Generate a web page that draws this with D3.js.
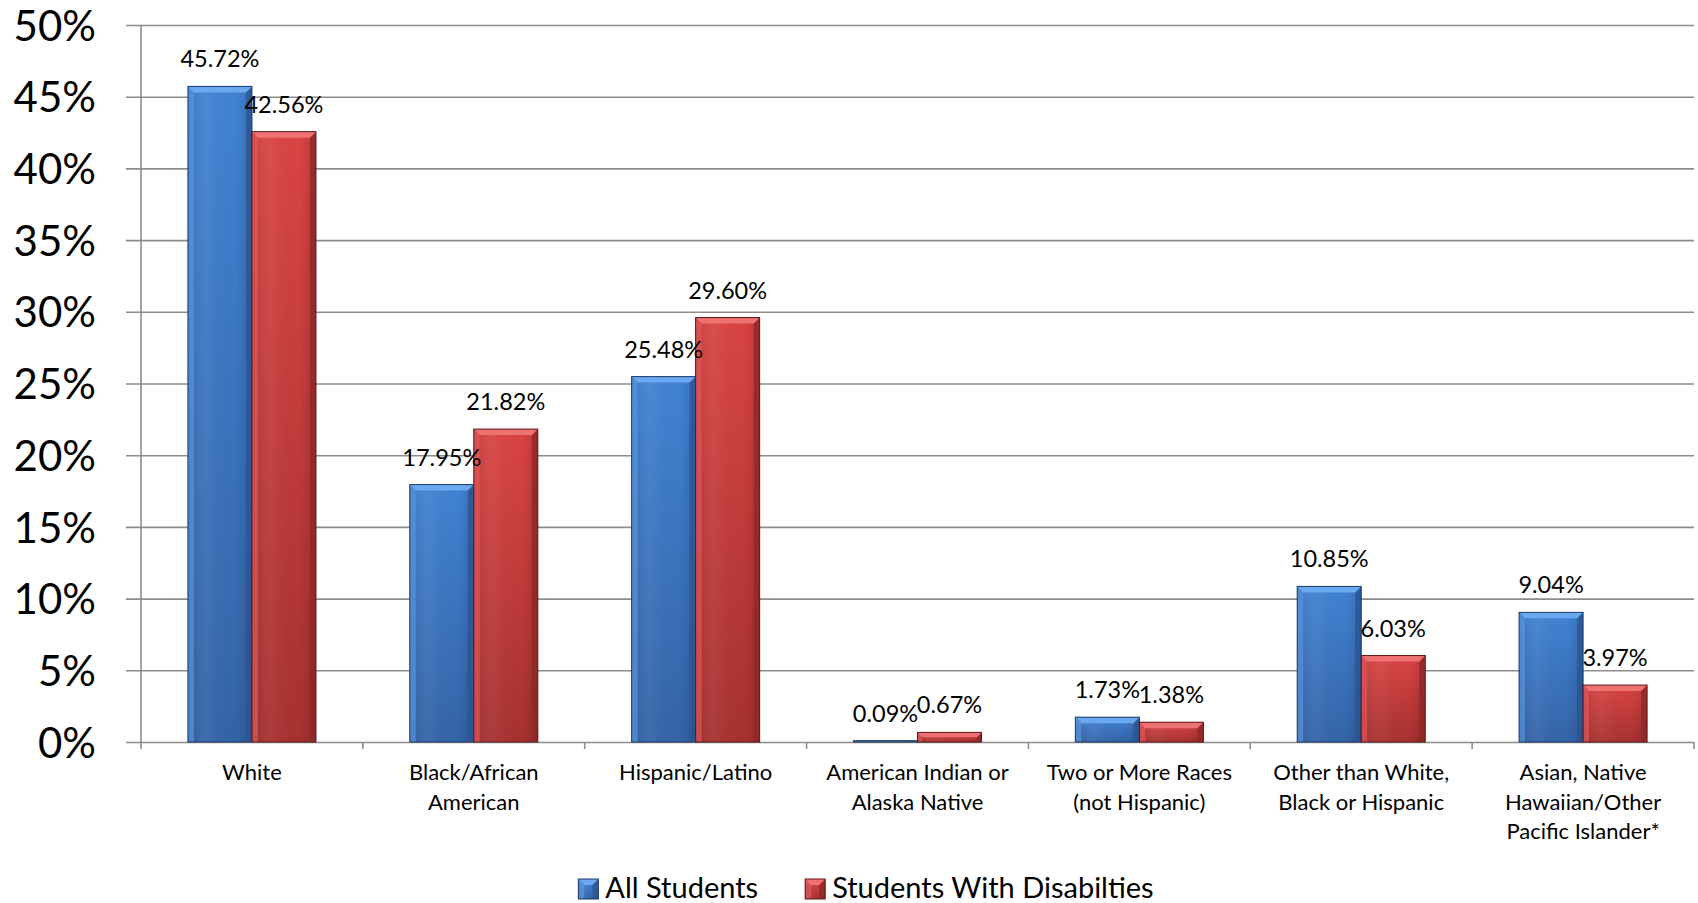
<!DOCTYPE html>
<html>
<head>
<meta charset="utf-8">
<script src="https://cdn.jsdelivr.net/npm/d3@7"></script>
<style>
  body { margin: 0; background: #fff; }
  svg text { font-family: Lato, "Open Sans", sans-serif; fill: #000; }
</style>
</head>
<body>
<div id="chart"></div>
<script>
// data
const categories = ["White", "Black/African American", "Hispanic/Latino",
  "American Indian or Alaska Native", "Two or More Races (not Hispanic)",
  "Other than White, Black or Hispanic", "Asian, Native Hawaiian/Other Pacific Islander*"];
const categoryLines = [
  ["White"],
  ["Black/African", "American"],
  ["Hispanic/Latino"],
  ["American Indian or", "Alaska Native"],
  ["Two or More Races", "(not Hispanic)"],
  ["Other than White,", "Black or Hispanic"],
  ["Asian, Native", "Hawaiian/Other", "Pacific Islander*"]
];
const seriesNames = ["All Students", "Students With Disabilties"];
const allStudents = [45.72, 17.95, 25.48, 0.09, 1.73, 10.85, 9.04];
const withDisabilities = [42.56, 21.82, 29.60, 0.67, 1.38, 6.03, 3.97];
const yTicks = [0, 5, 10, 15, 20, 25, 30, 35, 40, 45, 50];

function renderBars() {
  const width = 1698, height = 903;
  const margin = {top: 25, right: 4, bottom: 161, left: 141};

  const svg = d3.select("#chart")
    .append("svg")
    .attr("width", width)
    .attr("height", height);

  // colour sets for the bevelled bars
  const palette = [
    {id: "blue", top: "#6aa8f0", bodyTop: "#4183d4", bodyBottom: "#3464a8", light: "#5a95de", dark: "#2b5592", stroke: "#1d3a66"},
    {id: "red", top: "#ee7272", bodyTop: "#da4444", bodyBottom: "#a83131", light: "#e25858", dark: "#8e2828", stroke: "#5e1616"}
  ];

  const defs = svg.append("defs");
  palette.forEach(p => {
    const g = defs.append("linearGradient").attr("id", "body-" + p.id)
      .attr("x1", 0).attr("y1", 0).attr("x2", 0).attr("y2", 1);
    g.append("stop").attr("offset", "0%").attr("stop-color", p.bodyTop);
    g.append("stop").attr("offset", "100%").attr("stop-color", p.bodyBottom);
  });
  const side = defs.append("linearGradient").attr("id", "side-shade")
    .attr("x1", 0).attr("y1", 0).attr("x2", 1).attr("y2", 0);
  side.append("stop").attr("offset", "0%").attr("stop-color", "#000").attr("stop-opacity", 0.12);
  side.append("stop").attr("offset", "30%").attr("stop-color", "#fff").attr("stop-opacity", 0.05);
  side.append("stop").attr("offset", "75%").attr("stop-color", "#000").attr("stop-opacity", 0.0);
  side.append("stop").attr("offset", "100%").attr("stop-color", "#000").attr("stop-opacity", 0.15);

  const plotW = width - margin.left - margin.right;
  const plotH = height - margin.top - margin.bottom;

  const x = d3.scaleBand()
    .domain(categories)
    .range([0, plotW])
    .paddingInner(0.423)
    .paddingOuter(0.2115);

  const xSub = d3.scaleBand()
    .domain(seriesNames)
    .range([0, x.bandwidth()]);

  const y = d3.scaleLinear()
    .domain([0, 50])
    .range([plotH, 0]);

  const plot = svg.append("g")
    .attr("transform", `translate(${margin.left},${margin.top})`);

  // y axis with gridlines
  const yAxis = plot.append("g")
    .call(d3.axisLeft(y)
      .tickValues(yTicks)
      .tickSize(-plotW)
      .tickPadding(45)
      .tickFormat(d => d + "%"));
  yAxis.select(".domain").remove();
  yAxis.selectAll(".tick line")
    .attr("x1", -15)
    .attr("stroke", "#8c8c8c")
    .attr("stroke-width", 1.6);
  yAxis.selectAll(".tick text")
    .style("font-size", "42px")
    .attr("dy", "0.36em");

  // vertical axis line
  plot.append("line")
    .attr("x1", 0).attr("x2", 0)
    .attr("y1", 0).attr("y2", plotH + 7)
    .attr("stroke", "#8c8c8c")
    .attr("stroke-width", 1.6);

  // category boundary ticks
  const bounds = categories.map(c => x(c) - x.step() * x.paddingInner() / 2);
  bounds.push(plotW);
  plot.append("g")
    .selectAll("line")
    .data(bounds.slice(1))
    .join("line")
    .attr("x1", d => d).attr("x2", d => d)
    .attr("y1", plotH).attr("y2", plotH + 7)
    .attr("stroke", "#8c8c8c")
    .attr("stroke-width", 1.6);

  // category labels
  const xAxis = plot.append("g")
    .attr("transform", `translate(0,${plotH})`)
    .call(d3.axisBottom(x).tickSize(0).tickFormat(""));
  xAxis.select(".domain").remove();
  xAxis.selectAll(".tick").each(function(d, i) {
    const t = d3.select(this).append("text")
      .attr("text-anchor", "middle")
      .style("font-size", "22px");
    categoryLines[i].forEach((line, j) => {
      t.append("tspan")
        .attr("x", 0)
        .attr("y", 38 + j * 29.5)
        .text(line);
    });
  });

  // one bevelled bar
  function drawBar(g, bx, by, bw, bh, p) {
    const b = Math.min(6, bh / 2, bw / 2);
    g.append("rect")
      .attr("x", bx).attr("y", by).attr("width", bw).attr("height", bh)
      .attr("fill", `url(#body-${p.id})`);
    g.append("rect")
      .attr("x", bx).attr("y", by).attr("width", bw).attr("height", bh)
      .attr("fill", "url(#side-shade)");
    // left and right bevels
    g.append("polygon")
      .attr("points", [[bx, by], [bx + b, by + b], [bx + b, by + bh], [bx, by + bh]].join(" "))
      .attr("fill", p.light).attr("opacity", 0.7);
    g.append("polygon")
      .attr("points", [[bx + bw, by], [bx + bw - b, by + b], [bx + bw - b, by + bh], [bx + bw, by + bh]].join(" "))
      .attr("fill", p.dark).attr("opacity", 0.8);
    // top bevel
    g.append("polygon")
      .attr("points", [[bx, by], [bx + bw, by], [bx + bw - b, by + b], [bx + b, by + b]].join(" "))
      .attr("fill", p.top);
    g.append("rect")
      .attr("x", bx).attr("y", by).attr("width", bw).attr("height", bh)
      .attr("fill", "none")
      .attr("stroke", p.stroke)
      .attr("stroke-width", 1);
  }

  const seriesValues = [allStudents, withDisabilities];
  const groups = plot.append("g")
    .selectAll("g")
    .data(categories)
    .join("g")
    .attr("transform", d => `translate(${x(d)},0)`);

  groups.each(function(c, i) {
    const g = d3.select(this);
    seriesNames.forEach((s, k) => {
      const v = seriesValues[k][i];
      drawBar(g, xSub(s), y(v), xSub.bandwidth(), plotH - y(v), palette[k]);
    });
    seriesNames.forEach((s, k) => {
      const v = seriesValues[k][i];
      g.append("text")
        .attr("x", xSub(s) + xSub.bandwidth() / 2)
        .attr("y", y(v) - 19)
        .attr("text-anchor", "middle")
        .style("font-size", "23.5px")
        .text(v.toFixed(2) + "%");
    });
  });

  // legend
  const legend = svg.append("g");
  let lx = 0;
  seriesNames.forEach((s, k) => {
    const item = legend.append("g").attr("transform", `translate(${lx},0)`);
    drawBar(item, 0, -19, 20, 20, {...palette[k]});
    const t = item.append("text")
      .attr("x", 27)
      .attr("y", 0)
      .style("font-size", "29px")
      .text(s);
    lx += 27 + t.node().getComputedTextLength() + 47;
  });
  const lw = lx - 47;
  legend.attr("transform", `translate(${866 - lw / 2},898)`);
}

renderBars();
</script>
</body>
</html>
